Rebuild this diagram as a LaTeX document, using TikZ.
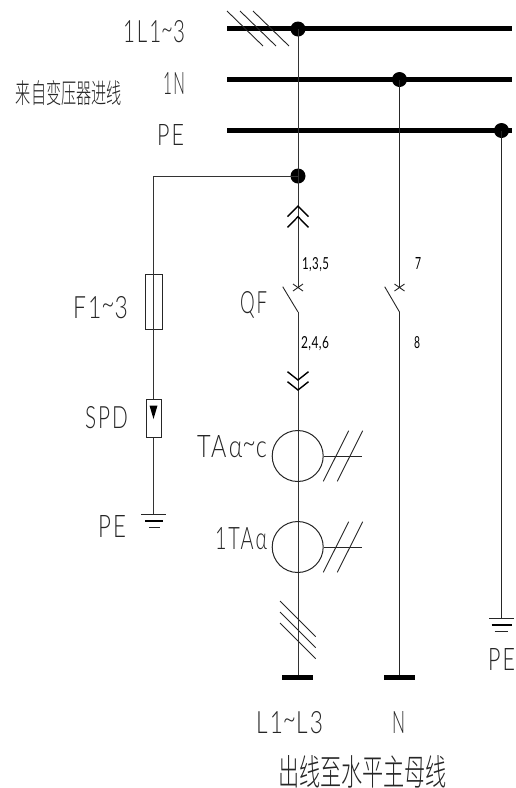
\documentclass[tikz,border=0pt]{standalone}
\usepackage{fontspec}
\usepackage{graphicx}
\setmainfont[LetterSpace=10]{Lato Light}
\newfontfamily\smallfnt[LetterSpace=4]{Lato}
\newfontfamily\cjkthin{Noto Sans CJK SC Light}
\newcommand{\tld}{\raisebox{0.1em}{\char"7E}}
\newcommand{\lbl}[6]{\node[lbl] (#1) at (#2,#3) {\resizebox{#4pt}{#5pt}{#6}};}
\newcommand{\slbl}[6]{\node[lbl,text=black] (#1) at (#2,#3) {\resizebox{#4pt}{#5pt}{\smallfnt #6}};}
\newcommand{\cjklbl}[6]{\node[lbl] (#1) at (#2,#3) {\resizebox{#4pt}{#5pt}{\cjkthin #6}};}
\tikzset{
  lbl/.style={anchor=north west,inner sep=0pt,outer sep=0pt,text=black!85},
  bus/.style={line width=5pt,black},
  wire/.style={line width=1pt,black!80},
  thin wire/.style={line width=0.9pt,black!85},
  chev/.style={line width=1.4pt,black,line join=miter},
  dot/.style={circle,fill=black,inner sep=0pt,minimum size=15pt},
  bar/.style={line width=5pt,black}
}
\begin{document}
\begin{tikzpicture}[x=1pt,y=-1pt]
\useasboundingbox (0,0) rectangle (515,788);
% bus ends
\coordinate (l1a) at (227,28.5); \coordinate (l1b) at (512,28.5);
\coordinate (na) at (227,79.5); \coordinate (nb) at (512,79.5);
\coordinate (pa) at (227,130.5); \coordinate (pb) at (512,130.5);
\draw[bus] (l1a) -- (l1b);
\draw[bus] (na) -- (nb);
\draw[bus] (pa) -- (pb);
% dots
\node[dot] (d1) at (298,29) {};
\node[dot] (d2) at (399.5,79.5) {};
\node[dot] (d3) at (501.5,130.5) {};
\node[dot] (d4) at (298,176) {};
% main feeder coordinates
\coordinate (x1) at (298,287.5);
\coordinate (x2) at (399.5,287.5);
\coordinate (s1) at (298,312);
\coordinate (s2) at (399.5,312);
\coordinate (b1) at (298,677);
\coordinate (b2) at (399.5,677);
\coordinate (g1) at (153,514.5);
\coordinate (g2) at (501.5,618);
\coordinate (corner) at (153,176);
% wires
\draw[wire] (d1.center) -- (x1);
\draw[wire] (s1) -- (b1);
\draw[thin wire] (d2.center) -- (x2);
\draw[thin wire] (s2) -- (b2);
\draw[thin wire] (d3.center) -- (g2);
\draw[wire] (d4.center) -- (corner) -- (g1);
% switch blades and crosses
\draw[thin wire] (282.7,286.7) -- (s1);
\draw[thin wire] (384.7,286.7) -- (s2);
\draw[thin wire] (293,284) -- (303,291) (293,291) -- (303,284);
\draw[thin wire] (394.5,284) -- (404.5,291) (394.5,291) -- (404.5,284);
% 45 degree marks on the buses
\draw[thin wire] (227,11) -- (263,46) (240,11) -- (276,46) (253,11) -- (289,46);
\draw[thin wire] (280,601) -- (315.7,636.7) (280,612) -- (315.7,647.7) (280,623) -- (315.7,658.7);
% drawout contacts
\draw[chev] (287.5,216.7) -- (298,206) -- (308.5,216.7);
\draw[chev] (287.5,227.4) -- (298,216.7) -- (308.5,227.4);
\draw[chev] (287.5,371.7) -- (298,380) -- (308.5,371.7);
\draw[chev] (287.5,381.7) -- (298,390) -- (308.5,381.7);
% fuse
\node[draw=black!85,fill=white,line width=1pt,minimum width=17pt,minimum height=55pt,inner sep=0pt] (fuse) at (153.5,301.5) {};
\draw[wire] (fuse.north) -- (fuse.south);
% SPD
\node[draw=black!85,fill=white,line width=1pt,minimum width=15pt,minimum height=38pt,inner sep=0pt] (spd) at (153.5,418) {};
\draw[wire] (fuse.south) -- (spd.north);
\fill[black] (149.5,405.5) -- (157.5,405.5) -- (153.5,419) -- cycle;
% grounds
\draw[thin wire] (141,514.5) -- (166,514.5);
\draw[line width=1.4pt,black] (145,521) -- (163,521);
\draw[thin wire] (149,527) -- (160,527);
\draw[thin wire] (489,618) -- (514,618);
\draw[line width=1.4pt,black] (491.5,625) -- (511.5,625);
\draw[thin wire] (494.7,631.7) -- (508,631.7);
% current transformers
\node[draw=black!85,circle,line width=1pt,minimum size=51pt,inner sep=0pt] (ct1) at (297.7,456) {};
\node[draw=black!85,circle,line width=1pt,minimum size=51pt,inner sep=0pt] (ct2) at (297.7,547) {};
\coordinate (ct1e) at (361.7,456);
\coordinate (ct2e) at (361.7,547);
\draw[thin wire] (ct1.east) -- (ct1e);
\draw[thin wire] (ct2.east) -- (ct2e);
\draw[thin wire] (323.3,481.3) -- (348.7,430.7) (337.3,481.3) -- (362.7,430.7);
\draw[thin wire] (323.3,572.3) -- (348.7,521.7) (337.3,572.3) -- (362.7,521.7);
% end bars
\draw[bar] (282.3,677) -- (313.3,677);
\draw[bar] (384,677) -- (415,677);
% labels
\lbl{t1}{123}{20.5}{62}{22}{1L1\tld3}
\lbl{t2}{163}{72}{22}{22}{1N}
\lbl{t3}{157}{124}{27}{21}{PE}
\cjklbl{t4}{16}{80}{106}{23}{来自变压器进线}
\lbl{t5}{73}{296}{55}{22}{F1\tld3}
\lbl{t6}{240}{291}{27}{22}{QF}
\slbl{t7}{302}{257}{27}{12}{1,3,5}
\slbl{t8}{415}{257}{6}{12}{7}
\slbl{t9}{301}{336}{28}{12}{2,4,6}
\slbl{t10}{414}{336}{6}{12}{8}
\lbl{t11}{85}{406}{43}{22}{SPD}
\lbl{t12}{197}{435}{70}{22}{TAα\tld c}
\lbl{t13}{215}{527}{52}{22}{1TAα}
\lbl{t14}{98}{515}{28}{22}{PE}
\lbl{t15}{488}{648}{27}{22}{PE}
\lbl{t16}{256}{711}{67}{22}{L1\tld L3}
\lbl{t17}{392}{711}{13}{22}{N}
\cjklbl{t18}{278}{755}{169}{30}{出线至水平主母线}
\end{tikzpicture}
\end{document}
